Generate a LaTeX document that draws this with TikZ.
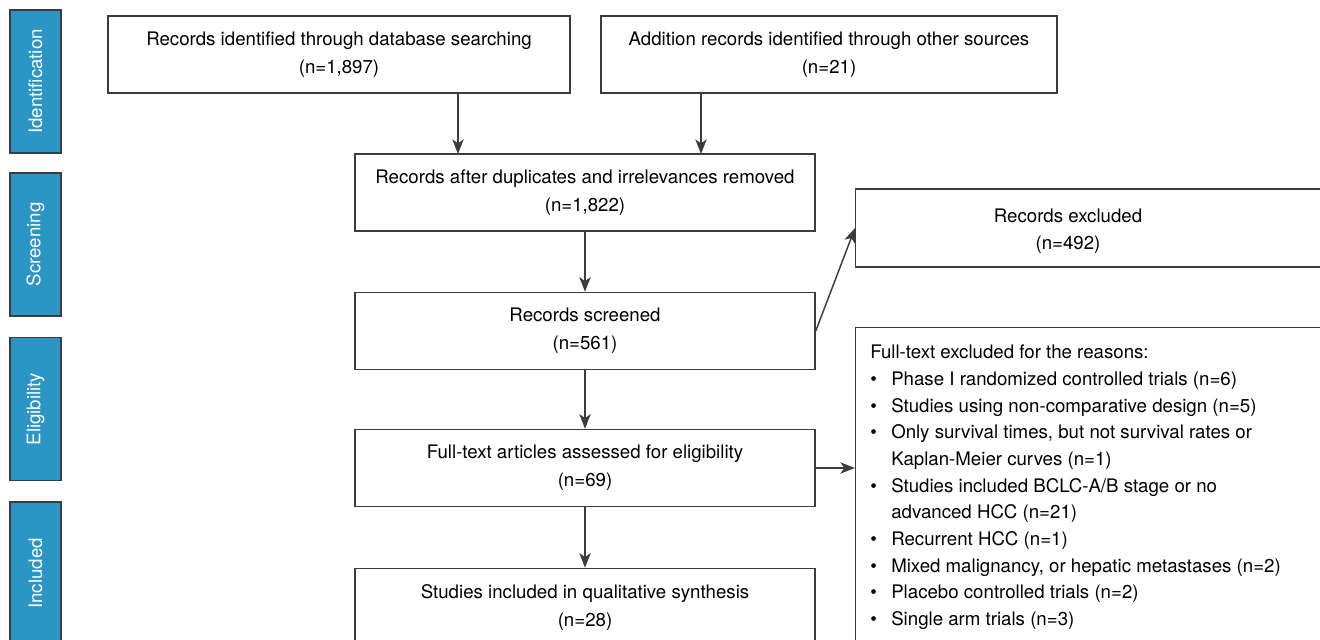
\documentclass[tikz,border=0pt]{standalone}
\usepackage{fontspec}
\setmainfont{TeX Gyre Heros}
\usetikzlibrary{arrows.meta}
\definecolor{stageblue}{RGB}{43,150,197}
\definecolor{boxline}{RGB}{60,60,60}
\newcommand{\bul}{\makebox[15.75pt][l]{\textbullet}}
\newcommand{\ind}{\hspace*{15.75pt}}
\begin{document}
\begin{tikzpicture}[x=.75pt, y=-.75pt,
        frame/.style={draw=boxline, line width=1.1pt},
        box/.style={frame, minimum width=345pt, minimum height=57.75pt, align=center, font=\fontsize{14}{21}\selectfont},
        stage/.style={frame, fill=stageblue, text=white, rotate=90, minimum width=107.25pt, minimum height=38.25pt, font=\fontsize{14}{17}\selectfont},
        flow/.style={draw=boxline, line width=1.1pt, -{Stealth[length=11pt, width=8.5pt, inset=3pt]}}]
    \useasboundingbox (0,0) rectangle (1320,639);
    \clip (0,0) rectangle (1320,639);
    % stages
    \node [stage] (ident) at (35.5,81.5) {Identification};
    \node [stage] (screen) at (35.5,244.5) {Screening};
    \node [stage] (elig) at (35.5,409) {Eligibility};
    \node [stage] (incl) at (35.5,573.5) {Included};
    % main column
    \node [box, minimum width=346.5pt] (db) at (339,54.5) {Records identified through database searching\\(n=1,897)};
    \node [box, minimum width=342pt] (other) at (829,54.5) {Addition records identified through other sources\\(n=21)};
    \node [box] (dup) at (585,192.5) {Records after duplicates and irrelevances removed\\(n=1,822)};
    \node [box] (screened) at (585,331) {Records screened\\(n=561)};
    \node [box] (fulltext) at (585,468) {Full-text articles assessed for eligibility\\(n=69)};
    \node [box] (studies) at (585,607) {Studies included in qualitative synthesis\\(n=28)};
    % exclusions
    \node [frame, anchor=west, minimum width=390pt, minimum height=58.5pt] (excl) at (855,228) {};
    \node [align=center, font=\fontsize{14}{20}\selectfont] (excltext) at (1068,231) {Records excluded\\(n=492)};
    \node [frame, anchor=north west, minimum width=390pt, minimum height=255pt] (reasons) at (855,327) {};
    \node [anchor=north west, inner sep=0pt, align=left, font=\fontsize{14}{20}\selectfont] (reasontext) at (870,345) {Full-text excluded for the reasons:\\
        \bul Phase I randomized controlled trials (n=6)\\
        \bul Studies using non-comparative design (n=5)\\
        \bul Only survival times, but not survival rates or\\
        \ind Kaplan-Meier curves (n=1)\\
        \bul Studies included BCLC-A/B stage or no\\
        \ind advanced HCC (n=21)\\
        \bul Recurrent HCC (n=1)\\
        \bul Mixed malignancy, or hepatic metastases (n=2)\\
        \bul Placebo controlled trials (n=2)\\
        \bul Single arm trials (n=3)};
    % arrows
    \coordinate (dbin) at (458,154);
    \coordinate (otherin) at (701,154);
    \draw [flow] (db.south -| dbin) -- (dbin);
    \draw [flow] (other.south -| otherin) -- (otherin);
    \draw [flow] (dup) -- (screened);
    \draw [flow] (screened) -- (fulltext);
    \draw [flow] (fulltext) -- (studies);
    \draw [flow] (screened.east) -- (excl.west);
    \draw [flow] (fulltext.east) -- (fulltext.east -| reasons.west);
\end{tikzpicture}
\end{document}
